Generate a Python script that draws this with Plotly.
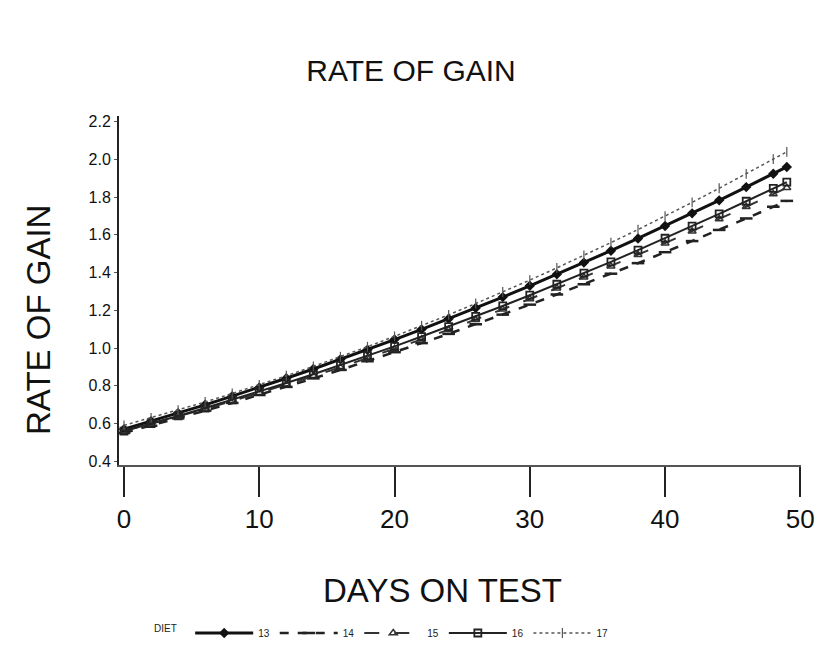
import plotly.graph_objects as go

days = [0, 2, 4, 6, 8, 10, 12, 14, 16, 18, 20, 22, 24, 26, 28, 30,
        32, 34, 36, 38, 40, 42, 44, 46, 48, 49]

series_names = ["13", "14", "15", "16", "17"]

gain_13 = [0.57, 0.612, 0.655, 0.699, 0.745, 0.791, 0.840, 0.889, 0.940, 0.991,
           1.045, 1.099, 1.155, 1.212, 1.270, 1.330, 1.391, 1.453, 1.516, 1.581,
           1.647, 1.714, 1.783, 1.853, 1.924, 1.96]
gain_14 = [0.55, 0.588, 0.627, 0.668, 0.709, 0.751, 0.794, 0.839, 0.884, 0.930,
           0.978, 1.026, 1.075, 1.126, 1.177, 1.230, 1.284, 1.338, 1.394, 1.450,
           1.508, 1.567, 1.626, 1.687, 1.749, 1.78]
gain_15 = [0.56, 0.598, 0.637, 0.677, 0.719, 0.762, 0.806, 0.851, 0.898, 0.946,
           0.995, 1.046, 1.097, 1.150, 1.205, 1.260, 1.317, 1.375, 1.434, 1.495,
           1.556, 1.619, 1.684, 1.749, 1.816, 1.85]
gain_16 = [0.56, 0.599, 0.640, 0.682, 0.725, 0.769, 0.815, 0.861, 0.909, 0.959,
           1.009, 1.061, 1.114, 1.168, 1.223, 1.280, 1.338, 1.397, 1.457, 1.519,
           1.582, 1.646, 1.711, 1.778, 1.846, 1.88]
gain_17 = [0.59, 0.630, 0.671, 0.714, 0.759, 0.805, 0.853, 0.903, 0.954, 1.007,
           1.062, 1.118, 1.176, 1.236, 1.297, 1.360, 1.425, 1.491, 1.559, 1.628,
           1.699, 1.772, 1.847, 1.923, 2.001, 2.04]

x_ticks = [0, 10, 20, 30, 40, 50]
y_ticks = [0.4, 0.6, 0.8, 1.0, 1.2, 1.4, 1.6, 1.8, 2.0, 2.2]
y_ticklabels = ["0.4", "0.6", "0.8", "1.0", "1.2", "1.4", "1.6", "1.8", "2.0", "2.2"]

styles = [
    dict(line=dict(color="#111", width=3, dash="solid"),
         marker=dict(symbol="diamond", size=8, color="#111")),
    dict(line=dict(color="#222", width=2.5, dash="dash"),
         marker=dict(symbol="line-ew", size=9, color="#222", line=dict(width=2.5, color="#222"))),
    dict(line=dict(color="#333", width=2, dash="longdash"),
         marker=dict(symbol="triangle-up-open", size=7, color="#333", line=dict(width=1.5))),
    dict(line=dict(color="#222", width=2, dash="solid"),
         marker=dict(symbol="square-open", size=7, color="#222", line=dict(width=1.8))),
    dict(line=dict(color="#555", width=1.5, dash="dot"),
         marker=dict(symbol="line-ns", size=7, color="#555", line=dict(width=1.2, color="#555"))),
]

all_series = [gain_13, gain_14, gain_15, gain_16, gain_17]

fig = go.Figure()
for name, vals, st in zip(series_names, all_series, styles):
    fig.add_trace(go.Scatter(x=days, y=vals, mode="lines+markers", name=name,
                             line=st["line"], marker=st["marker"], cliponaxis=False))

font_family = "Liberation Sans, Arial, sans-serif"

fig.update_layout(
    width=817, height=646,
    paper_bgcolor="white", plot_bgcolor="white",
    margin=dict(l=119, r=16, t=116, b=181, autoexpand=False),
    title=dict(text="RATE OF GAIN", x=411 / 817, xanchor="center", y=1 - 70 / 646, yanchor="middle",
               font=dict(family=font_family, size=30, color="#111")),
    font=dict(family=font_family, color="#111"),
    showlegend=True,
    legend=dict(orientation="h", x=152 / 817, xanchor="left", xref="container",
                y=(646 - 633) / 646, yanchor="middle", yref="container",
                font=dict(size=10, color="#222"), title=dict(text="DIET  ", font=dict(size=10)),
                itemwidth=58, bgcolor="rgba(0,0,0,0)"),
    annotations=[
        dict(text="DAYS ON TEST", xref="paper", yref="paper",
             x=(442 - 119) / 682, y=-(590 - 465) / 349, xanchor="center", yanchor="middle",
             showarrow=False, font=dict(size=33, color="#111", family=font_family)),
        dict(text="RATE OF GAIN", xref="paper", yref="paper", textangle=-90,
             x=-(119 - 38) / 682, y=(465 - 320) / 349, xanchor="center", yanchor="middle",
             showarrow=False, font=dict(size=33, color="#111", family=font_family)),
    ],
)

fig.update_xaxes(
    range=[-0.37, 50.05], tickvals=x_ticks, ticktext=[str(t) for t in x_ticks],
    showgrid=False, zeroline=False, showline=True, linecolor="#555", linewidth=1.5,
    ticks="outside", ticklen=30, tickwidth=2, tickcolor="#222",
    tickfont=dict(size=26, color="#111"), automargin=False, ticklabeloverflow="allow",
)
fig.update_yaxes(
    range=[0.38, 2.23], tickvals=y_ticks, ticktext=y_ticklabels,
    showgrid=False, zeroline=False, showline=True, linecolor="#222", linewidth=2,
    ticks="outside", ticklen=3, tickwidth=1, tickcolor="#555",
    tickfont=dict(size=16, color="#111"), automargin=False,
)

fig.write_html("out.html", config={"displayModeBar": False},
               post_script="document.body.style.margin='0';document.body.style.overflow='hidden';")
